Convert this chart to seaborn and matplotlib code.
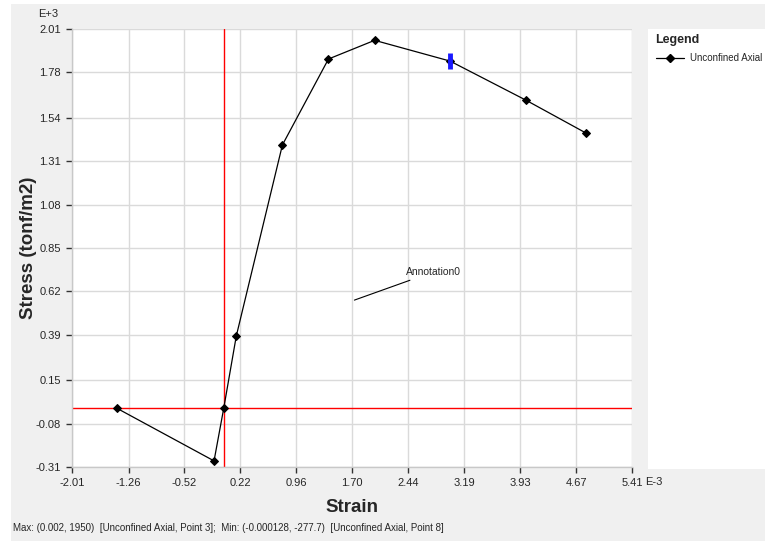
import numpy as np
import pandas as pd
import matplotlib
matplotlib.use("Agg")
import matplotlib.pyplot as plt
import seaborn as sns
from matplotlib.patches import Rectangle

# data (strain in E-3, stress in E+3 tonf/m2)
strain = [-1.41, -0.128, 0.0, 0.167, 0.778, 1.388, 2.0, 3.0, 4.0, 4.80]
stress = [0.0, -0.2777, 0.0, 0.384, 1.396, 1.851, 1.95, 1.84, 1.634, 1.459]
series_name = "Unconfined Axial"

x_ticks = [-2.01, -1.26, -0.52, 0.22, 0.96, 1.70, 2.44, 3.19, 3.93, 4.67, 5.41]
y_ticks = [-0.31, -0.08, 0.15, 0.39, 0.62, 0.85, 1.08, 1.31, 1.54, 1.78, 2.01]

cursor_point = 7  # highlighted point (blue marker)
status_text = ("Max: (0.002, 1950)  [Unconfined Axial, Point 3];  "
               "Min: (-0.000128, -277.7)  [Unconfined Axial, Point 8]")

df = pd.DataFrame({"Strain": strain, "Stress": stress, "Series": series_name})

sns.set_theme(style="white")
plt.rcParams["font.family"] = ["Liberation Sans", "DejaVu Sans"]

fig = plt.figure(figsize=(7.65, 5.41), dpi=100)
fig.patch.set_facecolor("white")

# grey window background
fig.patches.append(Rectangle((11 / 765, 0), 1, 1 - 4 / 541, transform=fig.transFigure,
                             facecolor="#f0f0f0", edgecolor="none", zorder=-10))
# legend panel
fig.patches.append(Rectangle((648 / 765, 1 - 469 / 541), 1, 440 / 541,
                             transform=fig.transFigure, facecolor="white",
                             edgecolor="none", zorder=-5))

ax = fig.add_axes([72 / 765, 1 - 467 / 541, 560 / 765, 438 / 541])
ax.set_facecolor("white")

sns.lineplot(data=df, x="Strain", y="Stress", sort=False, ax=ax,
             color="black", linewidth=0.9, marker="D", markersize=4.5,
             markeredgecolor="black", legend=False, zorder=3)

# blue cursor marker
ax.plot(strain[cursor_point], stress[cursor_point], marker="|", color="#1a1aff",
        markersize=11, markeredgewidth=3.5, zorder=4)

# red reference lines
ax.axvline(0, color="red", linewidth=1, zorder=2)
ax.axhline(0, color="red", linewidth=1, zorder=2)

# annotation
ax.annotate("Annotation0", xy=(1.732, 0.574), xytext=(2.41, 0.723),
            fontsize=7.5, va="center", ha="left",
            arrowprops=dict(arrowstyle="-", color="black", linewidth=0.8,
                            shrinkA=0, shrinkB=0))

ax.set_xlim(x_ticks[0], x_ticks[-1])
ax.set_ylim(y_ticks[0], y_ticks[-1])
ax.set_xticks(x_ticks)
ax.set_yticks(y_ticks)
ax.set_xticklabels([f"{v:.2f}" for v in x_ticks], fontsize=8)
ax.set_yticklabels([f"{v:.2f}" for v in y_ticks], fontsize=8)
ax.grid(True, color="#dadada", linewidth=1)
ax.set_axisbelow(True)
ax.tick_params(axis="both", direction="out", length=4, width=1, color="#333333",
               pad=4, bottom=True, left=True)

for side in ["top", "right"]:
    ax.spines[side].set_visible(False)
for side in ["left", "bottom"]:
    ax.spines[side].set_color("#c8c8c8")
    ax.spines[side].set_linewidth(1)

ax.set_xlabel("Strain", fontsize=13.5, fontweight="bold", labelpad=8)
ax.set_ylabel("Stress (tonf/m2)", fontsize=13.5, fontweight="bold")
ax.yaxis.set_label_coords(-0.063, 0.5)

fig.text(48 / 765, 1 - 14 / 541, "E+3", fontsize=8, ha="center", va="center")
fig.text(645 / 765, 1 - 482 / 541, "E-3", fontsize=8, ha="left", va="center")

# legend panel content
fig.text(655 / 765, 1 - 40 / 541, "Legend", fontsize=9, fontweight="bold",
         ha="left", va="center")
fig.add_artist(plt.Line2D([656 / 765, 684 / 765], [1 - 58 / 541, 1 - 58 / 541],
                          transform=fig.transFigure, color="black", linewidth=0.9))
fig.add_artist(plt.Line2D([670 / 765], [1 - 58 / 541], transform=fig.transFigure,
                          color="black", marker="D", markersize=4, linestyle="none"))
fig.text(690 / 765, 1 - 58 / 541, series_name, fontsize=7, ha="left", va="center")

# status bar
fig.text(13 / 765, 1 - 528 / 541, status_text, fontsize=7, ha="left", va="center")

plt.savefig("out.png", dpi=100)
plt.close()
